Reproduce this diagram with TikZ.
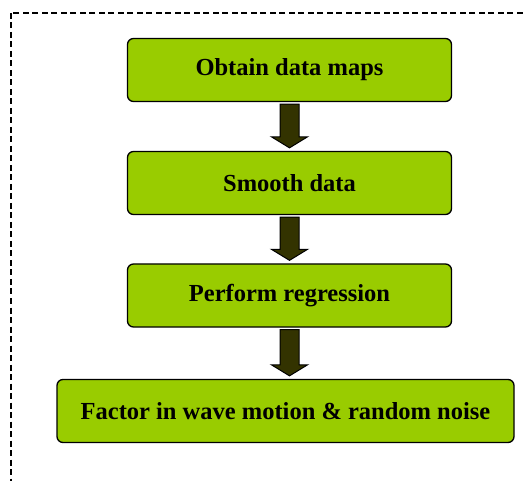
\documentclass[tikz,border=0pt]{standalone}
\usepackage{fontspec}
\setmainfont{Liberation Serif}
\usetikzlibrary{positioning, calc}
\definecolor{boxgreen}{HTML}{99CC00}
\definecolor{arrolive}{HTML}{333300}
\tikzset{
  gblk/.style={draw, line width=1.3pt, rounded corners=6pt, fill=boxgreen, align=center,
               font=\fontsize{24.5}{28}\selectfont\bfseries, minimum height=63pt, inner sep=0pt},
  gbox/.style={gblk, minimum width=324pt},
  gwide/.style={gblk, minimum width=457pt},   % last step is wider
  barr/.style={draw=black, line width=1pt, fill=arrolive},
  frame/.style={draw, line width=1.7pt, dash pattern=on 6pt off 3.5pt},
}
% block arrow from the bottom of one step to the top of the next
\newcommand{\blockarr}[2]{%
  \path[barr] let \p1=(#1.south), \p2=(#2.north) in
    (\x1-9.5pt,\y1-2pt) -- (\x1-9.5pt,\y2+14pt) -- (\x1-18pt,\y2+14pt) -- (\x1,\y2+3pt)
    -- (\x1+18pt,\y2+14pt) -- (\x1+9.5pt,\y2+14pt) -- (\x1+9.5pt,\y1-2pt) -- cycle;}

\begin{document}
\begin{tikzpicture}[x=1pt, y=1pt]
        \useasboundingbox (0,0) rectangle (525,-481);
        \draw[frame] (11,-13) rectangle (532,-484);
        \node[gbox] (maps) at (289.5,-70) {Obtain data maps};
        \node[gbox, below=48.7pt of maps] (smooth) {Smooth data};
        \node[gbox, below=48.2pt of smooth] (regr) {Perform regression};
        \node[gwide, below=51.2pt of regr, xshift=-4pt] (noise) {Factor in wave motion \& random noise};
        \blockarr{maps}{smooth} \blockarr{smooth}{regr} \blockarr{regr}{noise}
      \end{tikzpicture}
\end{document}
